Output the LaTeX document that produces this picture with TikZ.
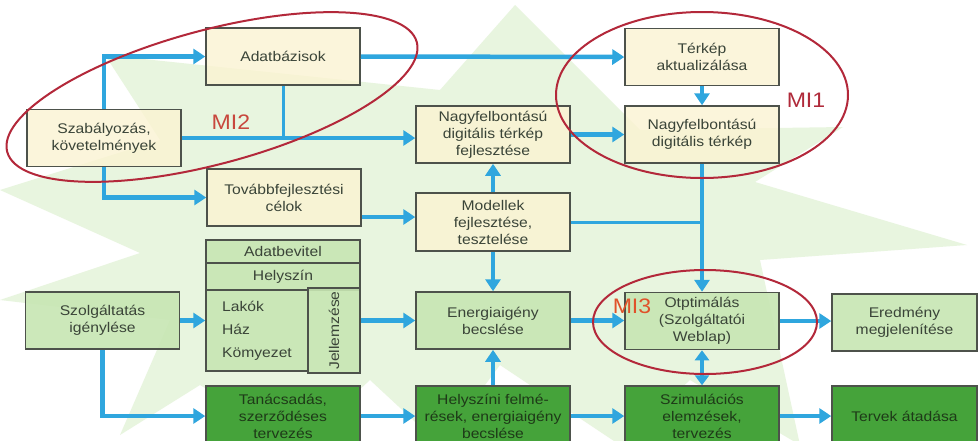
\documentclass[tikz,border=0pt]{standalone}
\usepackage{fontspec}
\setmainfont{Liberation Sans}[FakeStretch=1.12]
\newfontfamily\mifont{Liberation Sans}[FakeStretch=1.1]
\usepackage{xcolor}
\usepackage{tikz}
\usetikzlibrary{shapes.geometric, arrows.meta}
\definecolor{cream}{HTML}{FBF3D2}
\definecolor{lightgreen}{HTML}{C7E6B3}
\definecolor{darkgreen}{HTML}{45A33A}
\definecolor{flowblue}{HTML}{2FA6DE}
\definecolor{ringred}{HTML}{B3283A}
\definecolor{boxgray}{HTML}{4D524B}
\definecolor{textgray}{HTML}{3A4438}
\definecolor{darktext}{HTML}{1E3A18}
\definecolor{starbg}{HTML}{E8F5DF}
\definecolor{mitwo}{HTML}{C8473D}
\definecolor{mione}{HTML}{B02A3A}
\definecolor{mithree}{HTML}{E0522A}
\tikzstyle{paleblock} = [rectangle, minimum width=154pt, minimum height=57pt, text centered, align=center, draw=boxgray, line width=1.5pt, fill=cream, fill opacity=0.8, text opacity=1, text=textgray, font=\fontsize{14}{17}\selectfont]
\tikzstyle{greenblock} = [paleblock, fill=lightgreen, fill opacity=0.9]
\tikzstyle{darkblock} = [paleblock, fill=darkgreen, fill opacity=1, minimum height=60pt, text=darktext]
\tikzstyle{arrow} = [line width=4.5pt, draw=flowblue, -{Triangle[length=12pt,width=15pt]}]
\tikzstyle{feed} = [line width=3pt, draw=flowblue]
\tikzstyle{ring} = [draw=ringred, line width=2pt]
\tikzstyle{milabel} = [inner sep=0pt, font=\mifont\fontsize{21}{21}\selectfont]

\begin{document}
\begin{tikzpicture}[x=1pt, y=-1pt]

		\useasboundingbox (0,0) rectangle (978,440);
		\clip (0,0) rectangle (978,440);
		\fill [white] (0,0) rectangle (978,440);
		% background star
		\fill [starbg] (515,5) -- (640,130) -- (843,127) -- (755,182) -- (967,245) -- (760,260) -- (800,445) -- (690,380) -- (620,445) -- (500,365) -- (440,445) -- (370,380) -- (300,445) -- (200,385) -- (120,435) -- (170,320) -- (0,300) -- (140,253) -- (0,190) -- (160,140) -- (105,55) -- (440,90) -- cycle;

		% Draw the nodes
		\node (adat) [paleblock] at (283,56.5) {Adatbázisok};
		\node (szab) [paleblock] at (104,138) {Szabályozás,\\követelmények};
		\node (tovabb) [paleblock] at (284,197.5) {Továbbfejlesztési\\célok};
		\node (nagyfejl) [paleblock] at (493,134.5) {Nagyfelbontású\\digitális térkép\\fejlesztése};
		\node (modell) [paleblock, minimum height=58pt] at (493,222) {Modellek\\fejlesztése,\\tesztelése};
		\node (terkep) [paleblock] at (702,57) {Térkép\\aktualizálása};
		\node (nagy) [paleblock] at (702,134.5) {Nagyfelbontású\\digitális térkép};
		\node (bevitel) [greenblock, minimum height=23pt] at (283,251.5) {Adatbevitel};
		\node (helyszin) [greenblock, minimum height=27pt] at (283,276.5) {Helyszín};
		\node (lista) [greenblock, minimum width=102pt, minimum height=81pt, align=left, font=\fontsize{14}{23}\selectfont] at (257,330.5) {Lakók\\Ház\\Kömyezet};
		\node (jell) [greenblock, minimum width=52pt, minimum height=81pt] at (334,330.5) {\rotatebox{90}{Jellemzése}};
		\node (szolg) [greenblock] at (102.5,320.5) {Szolgáltatás\\igénylése};
		\node (energia) [greenblock] at (493,320.5) {Energiaigény\\becslése};
		\node (opt) [greenblock] at (702,321) {Otptimálás\\(Szolgáltatói\\Weblap)};
		\node (ered) [greenblock, minimum width=145pt] at (904.5,322.5) {Eredmény\\megjelenítése};
		\node (tanacs) [darkblock] at (283,416) {Tanácsadás,\\szerződéses\\tervezés};
		\node (helyszini) [darkblock] at (493,416) {Helyszíni felmé-\\rések, energiaigény\\becslése};
		\node (szim) [darkblock] at (702,416) {Szimulációs\\elemzések,\\tervezés};
		\node (tervek) [darkblock, minimum width=145pt] at (904.5,416) {Tervek átadása};
		\coordinate (tm) at ([yshift=5pt]modell.west);

		%Draw the arrows
		\draw [arrow] (szab.north) |- (adat.west);
		\draw [arrow] (szab.south) |- (tovabb.west);
		\draw [arrow] (szab.east) -- (szab.east -| nagyfejl.west);
		\draw [feed] (adat.south) -- (adat.south |- szab.east);
		\draw [arrow] (adat.east) -- (terkep.west);
		\draw [arrow] (nagyfejl.east) -- (nagy.west);
		\draw [arrow] (terkep.south) -- (nagy.north);
		\draw [arrow] (nagy.south) -- (opt.north);
		\draw [feed] (modell.east) -- (modell.east -| nagy.south);
		\draw [arrow] (tovabb.east |- tm) -- (tm);
		\draw [arrow] (modell.north) -- (nagyfejl.south);
		\draw [arrow] (modell.south) -- (energia.north);
		\draw [arrow] (helyszini.north) -- (energia.south);
		\draw [arrow] (jell.east |- energia.west) -- (energia.west);
		\draw [arrow] (szolg.east) -- (szolg.east -| lista.west);
		\draw [arrow] (szolg.south) |- (tanacs.west);
		\draw [arrow] (tanacs.east) -- (helyszini.west);
		\draw [arrow] (helyszini.east) -- (szim.west);
		\draw [arrow] (szim.east) -- (tervek.west);
		\draw [arrow] (energia.east) -- (energia.east -| opt.west);
		\draw [arrow] (opt.east) -- (opt.east -| ered.west);
		\draw [arrow, {Triangle[length=10pt,width=14pt]}-{Triangle[length=10pt,width=14pt]}] (opt.south) -- (szim.north);

		% MI rings
		\draw [ring, rotate around={15:(212,97)}] (212,97) ellipse [x radius=212pt, y radius=67pt];
		\draw [ring] (702,95) ellipse [x radius=146pt, y radius=83pt];
		\draw [ring] (705,322) ellipse [x radius=112pt, y radius=52pt];
		\node (mitwo) [milabel, text=mitwo] at (231,122) {MI2};
		\node (mione) [milabel, text=mione] at (806,100) {MI1};
		\node (mithree) [milabel, text=mithree] at (632,306) {MI3};

\end{tikzpicture}
\end{document}
